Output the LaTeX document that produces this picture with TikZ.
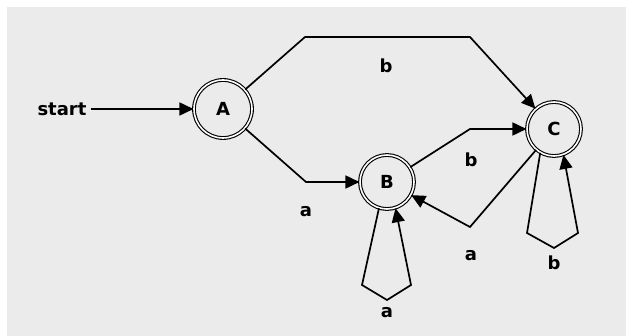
\documentclass[tikz,border=0pt]{standalone}
\usepackage{fontspec}
\setmainfont{DejaVu Sans}
\usetikzlibrary{arrows.meta}
\begin{document}
\begin{tikzpicture} [x = 1pt, y = -1pt, line width = 1.7pt,
  font = \bfseries\fontsize{18}{18}\selectfont,
  > = {Triangle[length = 14pt, width = 13pt]},
  state/.style = {circle, draw, double, double distance = 1.6pt, line width = 1.1pt, minimum size = 54pt, inner sep = 0pt}]

\useasboundingbox (0,0) rectangle (626,336);
\fill [black!8] (7,7) rectangle (626,336);

\node (start) at (62,109) {start};
\node [state, minimum size = 58pt] (A) at (223,109) {A};
\node [state] (B) at (387,182) {B};
\node [state] (C) at (554,129) {C};

\draw [->] (start) -- (A);

% A to C over the top
\coordinate (ac1) at (305,37);
\coordinate (ac2) at (470,37);
\draw [->] (A) -- (ac1) -- (ac2) -- (C);
\node (lab-ac) at (386,66) {b};

% A to B
\coordinate (ab1) at (306,182);
\draw [->] (A) -- (ab1) -- (B);
\node (lab-ab) at (306,212) {a};

% B to C
\coordinate (bc1) at (470,129);
\draw [->] (B) -- (bc1) -- (C);
\node (lab-bc) at (471,160) {b};

% C to B
\coordinate (cb1) at (470,227);
\draw [->] (C) -- (cb1) -- (B);
\node (lab-cb) at (471,256) {a};

% loops
\coordinate (bb1) at (362,285);
\coordinate (bb2) at (387,300);
\coordinate (bb3) at (411,285);
\draw [->] (B.253) -- (bb1) -- (bb2) -- (bb3) -- (B.288);
\node (lab-bb) at (387,313) {a};

\coordinate (cc1) at (527,233);
\coordinate (cc2) at (554,248);
\coordinate (cc3) at (578,233);
\draw [->] (C.240) -- (cc1) -- (cc2) -- (cc3) -- (C.290);
\node (lab-cc) at (554,263) {b};

\end{tikzpicture}
\end{document}
